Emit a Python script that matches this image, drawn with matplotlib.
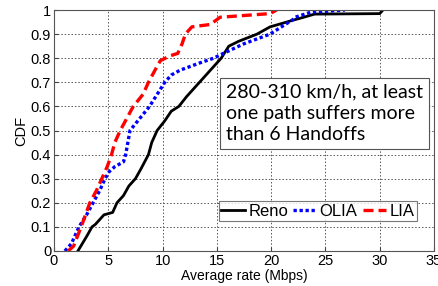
import matplotlib.pyplot as plt

# CDF curves (x = average rate in Mbps, y = CDF)
reno_x = [2.2, 2.6, 3.0, 3.5, 3.8, 4.2, 4.6, 5.4, 5.8, 6.4, 6.9, 7.5, 8.0, 8.7, 9.0,
          9.5, 10.2, 10.8, 11.5, 12.2, 13.4, 14.2, 15.0, 15.4, 16.1, 17.0, 18.7,
          19.9, 22.2, 23.0, 24.0, 30.0, 30.3]
reno_y = [0.0, 0.03, 0.06, 0.1, 0.11, 0.13, 0.15, 0.16, 0.2, 0.23, 0.27, 0.3, 0.34,
          0.4, 0.45, 0.5, 0.54, 0.58, 0.6, 0.64, 0.7, 0.74, 0.78, 0.8, 0.85, 0.87,
          0.9, 0.93, 0.96, 0.97, 0.983, 0.985, 1.0]

olia_x = [1.0, 1.6, 2.3, 3.0, 3.6, 4.2, 4.7, 5.1, 5.6, 6.4, 6.6, 6.8, 7.0, 7.9, 8.8,
          9.5, 10.2, 10.8, 11.6, 13.4, 14.7, 15.6, 17.5, 19.9, 22.0, 22.2, 23.6,
          26.8]
olia_y = [0.0, 0.03, 0.1, 0.15, 0.2, 0.25, 0.3, 0.33, 0.35, 0.37, 0.4, 0.45, 0.5,
          0.55, 0.6, 0.65, 0.7, 0.73, 0.75, 0.78, 0.8, 0.82, 0.86, 0.9, 0.96, 0.97,
          0.99, 1.0]

lia_x = [1.3, 1.8, 2.5, 2.9, 3.3, 3.9, 4.4, 4.9, 5.3, 5.6, 6.1, 6.7, 7.3, 8.2, 8.7,
         9.3, 9.8, 10.7, 11.4, 11.8, 12.1, 12.7, 14.4, 15.0, 15.3, 19.9, 20.5]
lia_y = [0.0, 0.02, 0.1, 0.15, 0.2, 0.25, 0.3, 0.35, 0.4, 0.45, 0.5, 0.55, 0.6, 0.65,
         0.7, 0.75, 0.79, 0.81, 0.82, 0.86, 0.9, 0.93, 0.94, 0.96, 0.97, 0.985, 1.0]

x_ticks = [0, 5, 10, 15, 20, 25, 30, 35]
y_ticks = [0, 0.1, 0.2, 0.3, 0.4, 0.5, 0.6, 0.7, 0.8, 0.9, 1]
y_tick_labels = ["0", "0.1", "0.2", "0.3", "0.4", "0.5", "0.6", "0.7", "0.8", "0.9", "1"]

plt.rcParams["font.family"] = "Liberation Sans"

fig = plt.figure(figsize=(4.39, 2.86), dpi=100)
ax = fig.add_axes([54 / 439, 1 - 251 / 286, 380 / 439, 241 / 286])

ax.plot(reno_x, reno_y, color="black", lw=2.0, ls="-", label="Reno")
ax.plot(olia_x, olia_y, color="#0000ff", lw=2.4, ls=(0, (1, 0.8)), label="OLIA")
ax.plot(lia_x, lia_y, color="#ff0000", lw=2.4, ls=(0, (3, 1.5)), label="LIA")

ax.set_xlim(0, 35)
ax.set_ylim(0, 1)
ax.set_xticks(x_ticks)
ax.set_yticks(y_ticks)
ax.set_yticklabels(y_tick_labels)
ax.tick_params(direction="in", labelsize=10.5, length=3, pad=2, color="#444444")
ax.grid(True, ls=(0, (1.5, 2)), color="#555555", lw=0.7)
for s in ax.spines.values():
    s.set_color("#555555")
    s.set_linewidth(0.8)

ax.set_xlabel("Average rate (Mbps)", fontsize=10, labelpad=1)
ax.set_ylabel("CDF", fontsize=10.5, labelpad=2)

leg = ax.legend(ncol=3, loc="upper left", bbox_to_anchor=(165 / 380, 50 / 241),
                fontsize=12, frameon=True, fancybox=False, handlelength=1.4,
                handletextpad=0.2, columnspacing=0.3, borderpad=0.15,
                borderaxespad=0)
leg.get_frame().set_edgecolor("#555555")
leg.get_frame().set_linewidth(0.8)

ax.text(172 / 380, 0.695, "280-310 km/h, at least\none path suffers more\nthan 6 Handoffs",
        transform=ax.transAxes, fontsize=14, family="Lato", va="top", ha="left",
        linespacing=1.3,
        bbox=dict(boxstyle="square,pad=0.3", fc="white", ec="#555555", lw=0.8))

fig.savefig("out.png", dpi=100)
